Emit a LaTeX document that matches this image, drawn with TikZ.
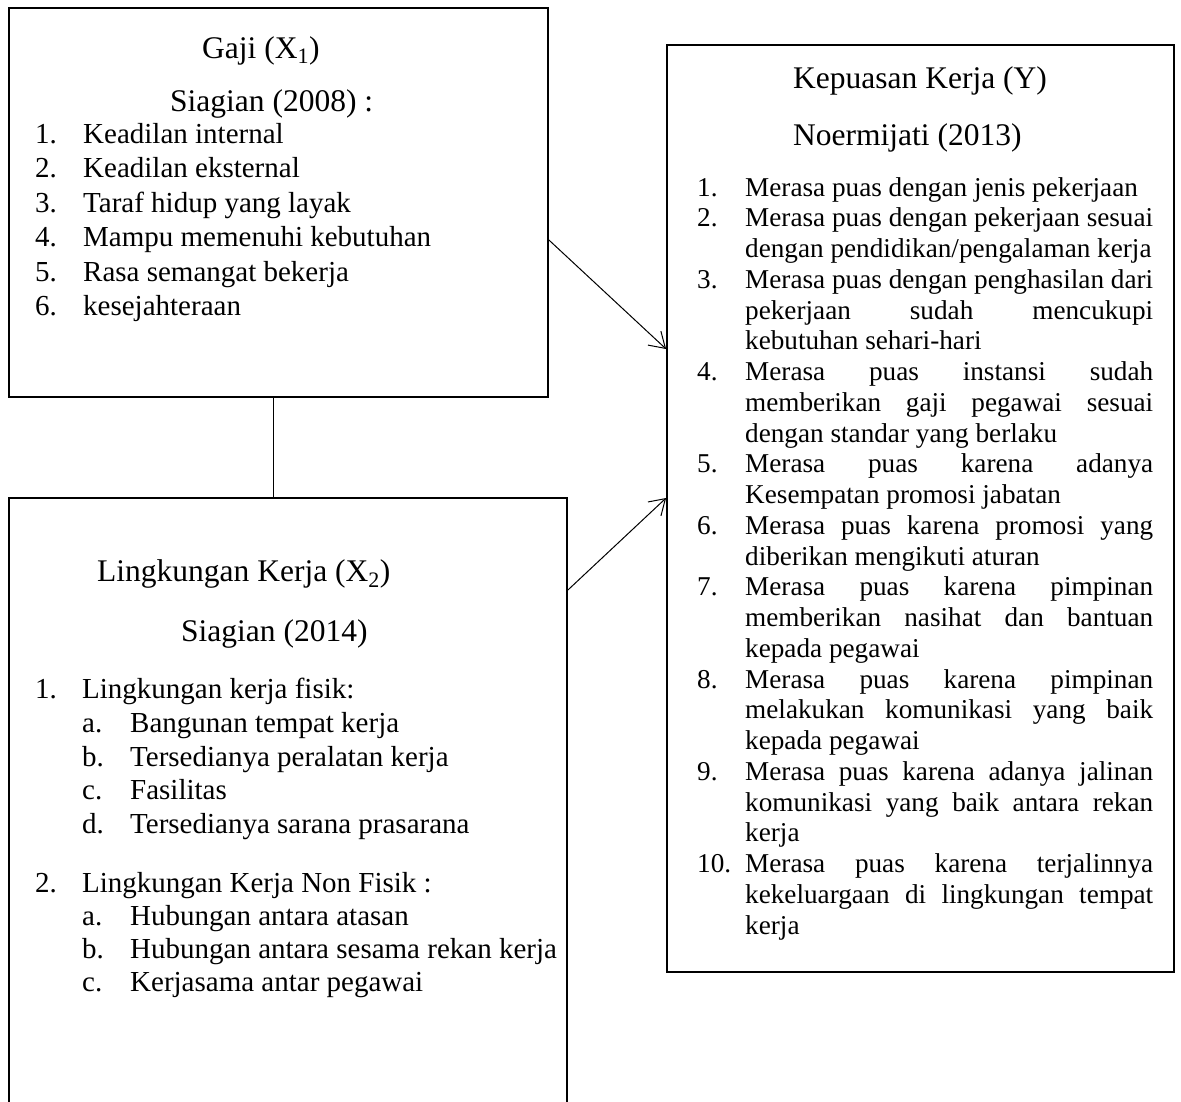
\documentclass[tikz,border=0pt]{standalone}
\usepackage{fontspec}
\setmainfont{Liberation Serif}
\usetikzlibrary{arrows.meta}
\newcommand\jus[1]{\hbox to 408pt{#1}}
\begin{document}
\begin{tikzpicture}[x=1pt,y=-1pt,
  box/.style={draw,line width=1.8pt,inner sep=0pt},
  conn/.style={line width=1pt,-{Straight Barb[length=15pt,width=19pt]}},
  link/.style={line width=1pt},
  txt/.style={anchor=base west,inner sep=0pt},
  hd/.style={txt,font=\fontsize{31.5}{36}\selectfont},
  ia/.style={txt,font=\fontsize{29}{34}\selectfont},
  ic/.style={txt,font=\fontsize{27.2}{31}\selectfont}]
\clip (0,0) rectangle (1181,1101);
\fill[white] (0,0) rectangle (1181,1101);
% boxes
\node[box,minimum width=539pt,minimum height=389pt] (A) at (278.5,202.5) {};
\node[box,minimum width=558pt,minimum height=700pt] (B) at (288,848) {};
\node[box,minimum width=507pt,minimum height=927pt] (C) at (920.5,508.5) {};
% box A text
\node[hd] (ah1) at (202,58) {Gaji (X\textsubscript{1})};
\node[hd] (ah2) at (170,111) {Siagian (2008) :};
\foreach \k/\t in {1/{Keadilan internal},2/{Keadilan eksternal},3/{Taraf hidup yang layak},4/{Mampu memenuhi kebutuhan},5/{Rasa semangat bekerja},6/{kesejahteraan}}{
  \node[ia] (an\k) at (35,{143+(\k-1)*34.5}) {\k.};
  \node[ia] (at\k) at (83,{143+(\k-1)*34.5}) {\t};
}
% box B text
\node[hd] (bh1) at (97,581) {Lingkungan Kerja (X\textsubscript{2})};
\node[hd] (bh2) at (181,641) {Siagian (2014)};
\node[ia] (bn1) at (35,698) {1.};
\node[ia] (bt1) at (82,698) {Lingkungan kerja fisik:};
\foreach \k/\l/\y/\t in {1/a/732/{Bangunan tempat kerja},2/b/766/{Tersedianya peralatan kerja},3/c/799/{Fasilitas},4/d/833/{Tersedianya sarana prasarana}}{
  \node[ia] (bl\k) at (82,\y) {\l.};
  \node[ia] (bs\k) at (130,\y) {\t};
}
\node[ia] (bn2) at (35,892) {2.};
\node[ia] (bt2) at (82,892) {Lingkungan Kerja Non Fisik :};
\foreach \k/\l/\y/\t in {5/a/925/{Hubungan antara atasan},6/b/958/{Hubungan antara sesama rekan kerja},7/c/991/{Kerjasama antar pegawai}}{
  \node[ia] (bl\k) at (82,\y) {\l.};
  \node[ia] (bs\k) at (130,\y) {\t};
}
% box C text
\node[hd] (ch1) at (793,88) {Kepuasan Kerja (Y)};
\node[hd] (ch2) at (793,145) {Noermijati (2013)};
\foreach \k/\t in {
 1/{Merasa puas dengan jenis pekerjaan},
 2/{\jus{Merasa puas dengan pekerjaan sesuai}},
 3/{dengan pendidikan/pengalaman kerja},
 4/{\jus{Merasa puas dengan penghasilan dari}},
 5/{\jus{pekerjaan sudah mencukupi}},
 6/{kebutuhan sehari-hari},
 7/{\jus{Merasa puas instansi sudah}},
 8/{\jus{memberikan gaji pegawai sesuai}},
 9/{dengan standar yang berlaku},
 10/{\jus{Merasa puas karena adanya}},
 11/{Kesempatan promosi jabatan},
 12/{\jus{Merasa puas karena promosi yang}},
 13/{diberikan mengikuti aturan},
 14/{\jus{Merasa puas karena pimpinan}},
 15/{\jus{memberikan nasihat dan bantuan}},
 16/{kepada pegawai},
 17/{\jus{Merasa puas karena pimpinan}},
 18/{\jus{melakukan komunikasi yang baik}},
 19/{kepada pegawai},
 20/{\jus{Merasa puas karena adanya jalinan}},
 21/{\jus{komunikasi yang baik antara rekan}},
 22/{kerja},
 23/{\jus{Merasa puas karena terjalinnya}},
 24/{\jus{kekeluargaan di lingkungan tempat}},
 25/{kerja}}{
  \node[ic] (c\k) at (745,{196+(\k-1)*30.75}) {\t};
}
\foreach \k/\n in {1/1,2/2,4/3,7/4,10/5,12/6,14/7,17/8,20/9,23/10}{
  \node[ic] (cn\n) at (697,{196+(\k-1)*30.75}) {\n.};
}
% connectors
\draw[link] ([xshift=-5.5pt]A.south) -- ([xshift=-5.5pt]A.south |- B.north);
\draw[conn] ([yshift=-37.5pt]A.east) -- ([yshift=159.5pt]C.west);
\draw[conn] ([yshift=258pt]B.east) -- ([yshift=10.5pt]C.west);
\end{tikzpicture}
\end{document}
